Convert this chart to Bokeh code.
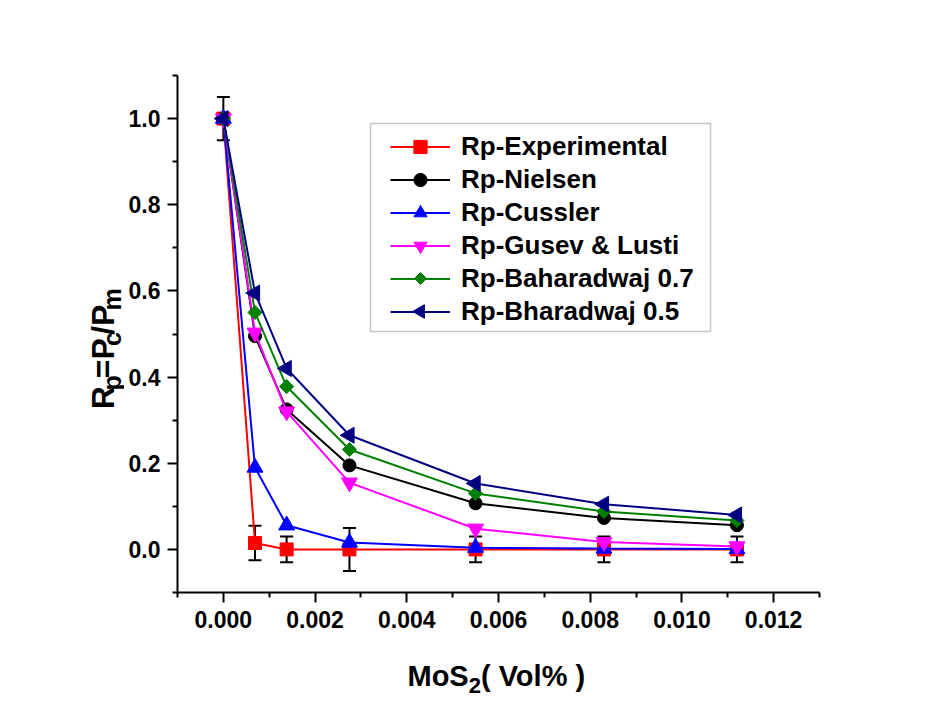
import numpy as np
from bokeh.plotting import figure
from bokeh.layouts import column, row
from bokeh.models import (Range1d, FixedTicker, PrintfTickFormatter, Legend, LegendItem,
                          Whisker, ColumnDataSource, TeeHead, BoxAnnotation)
from bokeh.core.properties import value
from bokeh.embed import file_html
from bokeh.resources import INLINE

# ---------------- data ----------------
x_vol = [0.0, 0.00069, 0.00138, 0.00275, 0.0055, 0.0083, 0.0112]
rp_exp = [1.0, 0.015, 0.0, 0.0, 0.0, 0.0, 0.0]
rp_exp_err = [0.05, 0.04, 0.03, 0.05, 0.03, 0.03, 0.03]
rp_nielsen = [1.0, 0.495, 0.325, 0.195, 0.107, 0.073, 0.056]
rp_cussler = [1.0, 0.19, 0.056, 0.016, 0.004, 0.002, 0.001]
rp_gusev = [1.0, 0.503, 0.32, 0.155, 0.048, 0.017, 0.007]
rp_bh07 = [1.0, 0.55, 0.378, 0.232, 0.13, 0.088, 0.067]
rp_bh05 = [1.0, 0.595, 0.42, 0.265, 0.153, 0.105, 0.08]

series_names = ["Rp-Experimental", "Rp-Nielsen", "Rp-Cussler", "Rp-Gusev & Lusti",
                "Rp-Baharadwaj 0.7", "Rp-Bharadwaj 0.5"]

x_ticks = [0.0, 0.002, 0.004, 0.006, 0.008, 0.010, 0.012]
x_minor = [-0.001, 0.001, 0.003, 0.005, 0.007, 0.009, 0.011, 0.013]
y_ticks = [0.0, 0.2, 0.4, 0.6, 0.8, 1.0]
y_minor = [-0.1, 0.1, 0.3, 0.5, 0.7, 0.9, 1.1]

x_title_parts = [("MoS", False), ("2", True), ("( Vol% )", False)]
y_title_parts = [("R", False), ("p", True), ("=P", False), ("c", True), ("/P", False), ("m", True)]

# ---------------- layout constants (page pixels) ----------------
XMIN, XMAX = -0.001, 0.013
YMIN, YMAX = -0.1, 1.1
YT_W = 124            # width of the y-title strip
FRAME_L, FRAME_T = 177, 75
FW, FH = 642, 517
FR = 110
MAIN_H = 642
XT_H = 57
FONT = "Liberation Sans"
LEG_LEFT, LEG_ROW0, LEG_ROW_H = 385, 146, 33   # legend geometry (page px)

main = figure(frame_width=FW, frame_height=FH,
              min_border_left=FRAME_L - YT_W, min_border_right=FR,
              min_border_top=FRAME_T, min_border_bottom=MAIN_H - FRAME_T - FH,
              x_range=Range1d(XMIN, XMAX), y_range=Range1d(YMIN, YMAX),
              output_backend="svg", toolbar_location=None)
p = main
p.outline_line_color = None
p.grid.visible = False
p.background_fill_color = "white"
p.border_fill_color = "white"

p.xaxis.ticker = FixedTicker(ticks=x_ticks, minor_ticks=x_minor)
p.yaxis.ticker = FixedTicker(ticks=y_ticks, minor_ticks=y_minor)
p.xaxis.formatter = PrintfTickFormatter(format="%.3f")
p.yaxis.formatter = PrintfTickFormatter(format="%.1f")
for ax in (p.xaxis, p.yaxis):
    ax.axis_line_width = 2
    ax.axis_line_color = "black"
    ax.major_tick_line_width = 2
    ax.minor_tick_line_width = 2
    ax.major_tick_out = 10
    ax.major_tick_in = 0
    ax.minor_tick_out = 5
    ax.minor_tick_in = 0
    ax.major_label_text_font = FONT
    ax.major_label_text_font_style = "bold"
    ax.major_label_text_font_size = "23px"
    ax.major_label_text_color = "black"
p.xaxis.major_label_standoff = 8
p.yaxis.major_label_standoff = 7


def px2x(page_x):
    return XMIN + (page_x - FRAME_L) / FW * (XMAX - XMIN)


def px2y(page_y):
    return YMIN + (FRAME_T + FH - page_y) / FH * (YMAX - YMIN)


# error bars
err_src = ColumnDataSource(dict(
    x=x_vol,
    upper=[v + e for v, e in zip(rp_exp, rp_exp_err)],
    lower=[v - e for v, e in zip(rp_exp, rp_exp_err)]))
wh = Whisker(source=err_src, base="x", upper="upper", lower="lower", dimension="height",
             line_color="black", line_width=2, level="underlay",
             upper_head=TeeHead(size=13, line_width=2, line_color="black"),
             lower_head=TeeHead(size=13, line_width=2, line_color="black"))
p.add_layout(wh)

# (values, colour, marker, size, angle, legend shows marker itself?)
specs = [
    (rp_exp, "#FF0000", "square", 13, 0.0, True),
    (rp_nielsen, "#000000", "circle", 13, 0.0, True),
    (rp_cussler, "#0000FF", "triangle", 16, 0.0, True),
    (rp_gusev, "#FF00FF", "inverted_triangle", 16, 0.0, True),
    (rp_bh07, "#008000", "square", 10, np.pi / 4, False),
    (rp_bh05, "#000080", "triangle", 16, np.pi / 2, False),
]
items = []
for k, (name, (ys, col, mk, sz, ang, leg_marker)) in enumerate(zip(series_names, specs)):
    lr = p.line(x_vol, ys, line_color=col, line_width=2)
    sr = p.scatter(x_vol, ys, marker=mk, size=sz, fill_color=col, line_color=col, angle=ang)
    if leg_marker:
        items.append(LegendItem(label=name, renderers=[lr, sr]))
    else:
        # legend swatches ignore marker rotation, so draw the rotated swatch marker here
        items.append(LegendItem(label=name, renderers=[lr]))
        p.scatter([px2x(LEG_LEFT + 35)], [px2y(LEG_ROW0 + k * LEG_ROW_H)], marker=mk,
                  size=sz * 0.85, fill_color=col, line_color=col, angle=ang)

legend = Legend(items=items, location=(LEG_LEFT - FRAME_L, FRAME_T + FH - (LEG_ROW0 - LEG_ROW_H / 2 - 5) - 208),
                orientation="vertical",
                glyph_width=60, glyph_height=LEG_ROW_H, label_height=LEG_ROW_H, spacing=0,
                label_standoff=11, padding=5, margin=0,
                label_text_font=FONT, label_text_font_style="bold",
                label_text_font_size="26px", label_text_color="black",
                label_text_baseline="middle",
                border_line_alpha=0, background_fill_alpha=0)
p.add_layout(legend)

# legend frame
p.add_layout(BoxAnnotation(left=px2x(370), right=px2x(710), top=px2y(123), bottom=px2y(331),
                           fill_alpha=0, line_color="#404040", line_width=1.5, level="underlay"))

# ---------- axis titles (text with subscripts) drawn in small helper figures ----------
W = {"R": .722, "p": .611, "=": .584, "P": .667, "c": .556, "/": .278, "m": .889,
     "M": .833, "o": .611, "S": .667, "2": .556, "(": .333, " ": .278, "V": .667,
     "l": .278, "%": .889, ")": .333}


def tw(s, size):
    return sum(W.get(ch, 0.6) for ch in s) * size


def blank_fig(w, h):
    f = figure(width=w, height=h, x_range=Range1d(0, w), y_range=Range1d(0, h),
               x_axis_type=None, y_axis_type=None, min_border=0,
               output_backend="svg", toolbar_location=None)
    f.outline_line_color = None
    f.grid.visible = False
    f.background_fill_color = "white"
    f.border_fill_color = "white"
    return f


# y title: rotated, reads bottom-to-top, centred at page y 342, baseline page x 102
yt = blank_fig(YT_W, MAIN_H)
F, fs = 32, 25
total = sum(tw(s, fs if sub else F) for s, sub in y_title_parts)
cy = 342 + total / 2
for s, sub in y_title_parts:
    sz = fs if sub else F
    bx = 111 if sub else 102
    yt.text(x=[bx], y=[MAIN_H - cy], text=[s], angle=np.pi / 2,
            text_font=value(FONT), text_font_style="bold", text_font_size=f"{sz}px",
            text_color="black", text_align="left", text_baseline="alphabetic")
    cy -= tw(s, sz)

# x title: starts page x 407, baseline page y 675
TOTAL_W = YT_W + (FRAME_L - YT_W) + FW + FR
xt = blank_fig(TOTAL_W, XT_H)
F2, fs2 = 29, 22
cx = 407
for s, sub in x_title_parts:
    sz = fs2 if sub else F2
    by = 685 if sub else 675
    xt.text(x=[cx], y=[MAIN_H + XT_H - by], text=[s],
            text_font=value(FONT), text_font_style="bold", text_font_size=f"{sz}px",
            text_color="black", text_align="left", text_baseline="alphabetic")
    cx += tw(s, sz)

layout = column(row(yt, main, spacing=0), xt, spacing=0)
open("out.html", "w").write(file_html(layout, INLINE))
